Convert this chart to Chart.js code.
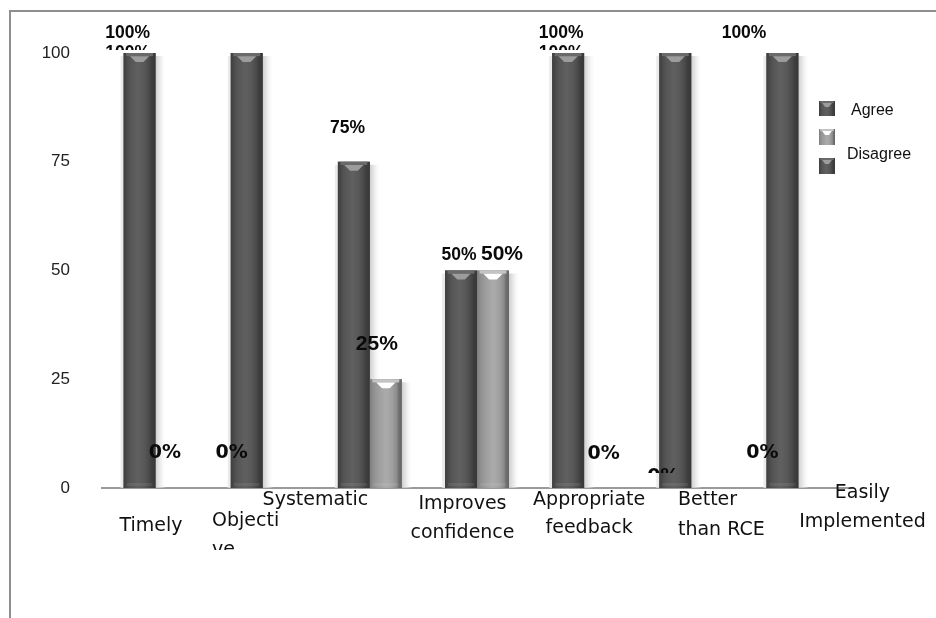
<!DOCTYPE html>
<html><head><meta charset="utf-8">
<script src="https://cdn.jsdelivr.net/npm/chart.js@4.4.1/dist/chart.umd.min.js"></script>
<style>
html,body{margin:0;padding:0;background:#fff;}
#wrap{position:relative;width:936px;height:618px;overflow:hidden;}
#frame{position:absolute;left:9px;top:10px;width:940px;height:620px;border-top:2px solid #8e8e8e;border-left:2px solid #8e8e8e;}
canvas{position:absolute;left:0;top:0;}
</style></head><body>
<div id="wrap"><div id="frame"></div><canvas id="c" width="936" height="618"></canvas></div>
<script>
// ---- data ----
const categories = [["Timely"], ["Objecti", "ve"], ["Systematic"], ["Improves", "confidence"], ["Appropriate", "feedback"], ["Better", "than RCE"], ["Easily", "Implemented"]];
const seriesNames = ["Agree", "Disagree"];
const agree = [100, 100, 75, 50, 100, 100, 100];
const disagree = [0, 0, 25, 50, 0, 0, 0];
const yTicks = [0, 25, 50, 75, 100];

// ---- layout / style (label placement relative to bars) ----
const agreeLabelLayout = [
  [{dx: -12, dy: -15}, {dx: -12, dy: 5, clip: -3}],
  [],
  [{dx: -6.4, dy: -29}],
  [{dx: -2, dy: -11}],
  [{dx: -7, dy: -15}, {dx: -7, dy: 5, clip: -3}],
  [],
  [{dx: -38.4, dy: -15}]
];
const disagreeLabelLayout = [
  [{dx: -6.6, dy: -30}],
  [{dx: -47, dy: -30}],
  [{dx: -9, dy: -29}],
  [{dx: 9, dy: -11}],
  [{dx: 3.4, dy: -29}],
  [{dx: -44, dy: -6, clip: -15}],
  [{dx: -52, dy: -30}]
];
const catLabelLayout = [
  {align: 'center', dx: -4.6, base: [43]},
  {align: 'left', dx: -50.7, base: [38, 67], clip: 62},
  {align: 'center', dx: -54.4, base: [17]},
  {align: 'center', dx: -14.5, base: [21, 50]},
  {align: 'center', dx: 5, base: [17, 45]},
  {align: 'left', dx: -13.3, base: [17, 47]},
  {align: 'center', dx: 64, base: [10, 39]}
];

const palettes = [
  { body: [[0, '#3e3e3e'], [0.1, '#4a4a4a'], [0.2, '#555555'], [0.45, '#606060'], [0.65, '#585858'], [0.8, '#4a4a4a'], [0.88, '#3e3e3e'], [1, '#383838']],
    rim: '#6a6a6a', cap: '#9c9c9c', base: '#5a5a5a' },
  { body: [[0, '#7e7e7e'], [0.1, '#8e8e8e'], [0.25, '#9c9c9c'], [0.5, '#ababab'], [0.7, '#a0a0a0'], [0.85, '#8a8a8a'], [0.9, '#707070'], [1, '#666666']],
    rim: '#c4c4c4', cap: '#ffffff', base: '#a8a8a8' }
];

function drawCylinder(ctx, left, top, w, bottom, pal, capH) {
  const g = ctx.createLinearGradient(left, 0, left + w, 0);
  pal.body.forEach(([o, c]) => g.addColorStop(o, c));
  ctx.fillStyle = g;
  ctx.fillRect(left, top, w, bottom - top);
  const rimH = Math.max(2, capH * 0.35);
  ctx.fillStyle = pal.rim;
  ctx.fillRect(left + w * 0.08, top, w * 0.84, rimH);
  ctx.fillStyle = pal.cap;
  ctx.beginPath();
  ctx.moveTo(left + w * 0.2, top + rimH);
  ctx.lineTo(left + w * 0.8, top + rimH);
  ctx.lineTo(left + w * 0.62, top + capH);
  ctx.lineTo(left + w * 0.38, top + capH);
  ctx.closePath();
  ctx.fill();
}

const barStyle = {
  id: 'barStyle',
  beforeDatasetsDraw(chart) {
    const ctx = chart.ctx;
    chart.data.datasets.forEach((ds, d) => {
      chart.getDatasetMeta(d).data.forEach(el => {
        const p = el.getProps(['x', 'y', 'base', 'width'], true);
        if (Math.abs(p.base - p.y) < 1) return;
        const right = p.x + p.width / 2, left = p.x - p.width / 2;
        const g = ctx.createLinearGradient(right, 0, right + 11, 0);
        g.addColorStop(0, 'rgba(200,200,200,0.9)');
        g.addColorStop(0.4, 'rgba(225,225,225,0.7)');
        g.addColorStop(1, 'rgba(255,255,255,0)');
        ctx.fillStyle = g;
        ctx.fillRect(right, p.y + 3, 11, p.base - p.y - 3);
        ctx.fillStyle = 'rgba(230,230,230,0.8)';
        ctx.fillRect(left - 3, p.y + 3, 3, p.base - p.y - 3);
      });
    });
  },
  afterDatasetsDraw(chart) {
    const ctx = chart.ctx;
    chart.data.datasets.forEach((ds, d) => {
      chart.getDatasetMeta(d).data.forEach(el => {
        const p = el.getProps(['x', 'y', 'base', 'width'], true);
        if (Math.abs(p.base - p.y) < 1) return;
        drawCylinder(ctx, p.x - p.width / 2, p.y, p.width, p.base, palettes[d], 9);
        ctx.fillStyle = 'rgba(255,255,255,0.08)';
        ctx.fillRect(p.x - p.width / 2 + 3, p.base - 5, p.width - 6, 3);
      });
    });
  }
};

function valueFont(d, v) {
  if (d === 0) return 'bold 17.5px "Liberation Sans"';
  return v === 0 ? 'bold 19px "DejaVu Sans"' : 'bold 21px "Liberation Sans"';
}

const valueLabels = {
  id: 'valueLabels',
  afterDraw(chart) {
    const ctx = chart.ctx;
    const layouts = [agreeLabelLayout, disagreeLabelLayout];
    chart.data.datasets.forEach((ds, d) => {
      chart.getDatasetMeta(d).data.forEach((el, i) => {
        const p = el.getProps(['x', 'y'], true);
        const v = ds.data[i];
        (layouts[d][i] || []).forEach(L => {
          ctx.save();
          if (L.clip !== undefined) {
            ctx.beginPath(); ctx.rect(0, 0, chart.width, p.y + L.clip); ctx.clip();
          }
          ctx.font = valueFont(d, v);
          ctx.fillStyle = '#0a0a0a';
          ctx.textAlign = 'center';
          ctx.textBaseline = 'alphabetic';
          ctx.fillText(v + '%', p.x + L.dx, p.y + L.dy);
          ctx.restore();
        });
      });
    });
  }
};

const catLabels = {
  id: 'catLabels',
  afterDraw(chart) {
    const ctx = chart.ctx;
    const xs = chart.scales.x;
    const axisY = chart.chartArea.bottom;
    chart.data.labels.forEach((lines, i) => {
      const L = catLabelLayout[i];
      const cx = xs.getPixelForValue(i) + L.dx;
      ctx.save();
      if (L.clip !== undefined) { ctx.beginPath(); ctx.rect(0, 0, chart.width, axisY + L.clip); ctx.clip(); }
      ctx.font = '19px "DejaVu Sans"';
      ctx.fillStyle = '#111';
      ctx.textAlign = L.align;
      ctx.textBaseline = 'alphabetic';
      lines.forEach((t, k) => ctx.fillText(t, cx, axisY + L.base[k]));
      ctx.restore();
    });
  }
};

const customLegend = {
  id: 'customLegend',
  afterDraw(chart) {
    const ctx = chart.ctx;
    const bx = 819, bw = 16;
    drawCylinder(ctx, bx, 101, bw, 116, palettes[0], 6);
    drawCylinder(ctx, bx, 129, bw, 145, palettes[1], 6);
    drawCylinder(ctx, bx, 158, bw, 174, palettes[0], 6);
    ctx.save();
    ctx.font = '16px "Liberation Sans"';
    ctx.fillStyle = '#111';
    ctx.textAlign = 'left';
    ctx.textBaseline = 'alphabetic';
    ctx.fillText(chart.data.datasets[0].label, 851, 115);
    ctx.fillText(chart.data.datasets[1].label, 847, 159);
    ctx.restore();
  }
};

new Chart(document.getElementById('c'), {
  type: 'bar',
  data: {
    labels: categories,
    datasets: [
      {label: seriesNames[0], data: agree, backgroundColor: '#555555', borderWidth: 0},
      {label: seriesNames[1], data: disagree, backgroundColor: '#9c9c9c', borderWidth: 0}
    ]
  },
  options: {
    responsive: false,
    animation: false,
    events: [],
    layout: {padding: {left: 41, right: 84, top: 53, bottom: 130}},
    datasets: {bar: {categoryPercentage: 0.597, barPercentage: 1}},
    plugins: {legend: {display: false}, tooltip: {enabled: false}},
    scales: {
      x: {
        grid: {display: false, drawTicks: false},
        border: {display: true, color: '#9a9a9a', width: 2},
        ticks: {display: false},
        afterFit(s) { s.height = 0; }
      },
      y: {
        min: 0, max: 100,
        afterBuildTicks(s) { s.ticks = yTicks.map(v => ({value: v})); },
        grid: {display: false, drawTicks: false},
        border: {display: false},
        ticks: {padding: 32, color: '#222', font: {family: 'Liberation Sans', size: 17}},
        afterFit(s) { s.width = 61; }
      }
    }
  },
  plugins: [barStyle, valueLabels, catLabels, customLegend]
});
</script>
</body></html>
